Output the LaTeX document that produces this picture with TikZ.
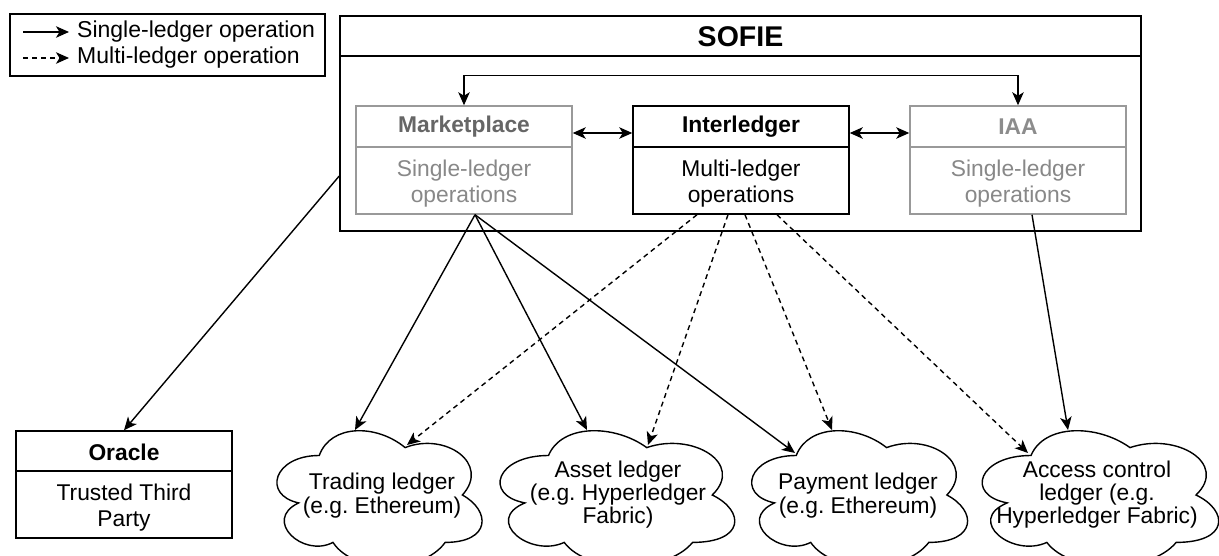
\documentclass[tikz,border=0pt]{standalone}
\usepackage{fontspec}
\setmainfont{Liberation Sans}
\usetikzlibrary{arrows.meta,calc}
\frenchspacing
\definecolor{grayline}{RGB}{153,153,153}
\definecolor{graytitle}{RGB}{102,102,102}
\definecolor{graytitlelt}{RGB}{140,140,140}
\definecolor{graytext}{RGB}{136,136,136}
\newcommand\drawcloud[4]{%
  \begin{scope}[shift={(#1,#2)}, xscale=#3, yscale=#4]
    \draw[cloudline] (0.25,0.25) .. controls (0.05,0.25) and (0,0.5) .. (0.16,0.55)
      .. controls (0,0.66) and (0.18,0.9) .. (0.31,0.8)
      .. controls (0.4,1) and (0.7,1) .. (0.8,0.8)
      .. controls (1,0.8) and (1,0.6) .. (0.875,0.5)
      .. controls (1,0.3) and (0.8,0.1) .. (0.625,0.2)
      .. controls (0.5,0.05) and (0.3,0.05) .. (0.25,0.25) -- cycle;
  \end{scope}}
\begin{document}
\frenchspacing
\begin{tikzpicture}[x=1pt,y=-1pt,
  every node/.style={font=\fontsize{22.8}{26}\selectfont, inner sep=0pt, align=center},
  boxblack/.style={draw=black, line width=1.5pt, minimum width=216pt, minimum height=108pt},
  boxgray/.style={draw=grayline, line width=1.5pt, minimum width=216pt, minimum height=108pt},
  cloudline/.style={draw=black, line width=1.4pt},
  conn/.style={line width=1.4pt, -{Stealth[length=13pt,width=11.5pt,inset=3.5pt]}},
  conndash/.style={conn, dash pattern=on 5pt off 4pt},
  both/.style={line width=1.4pt, {Stealth[length=13pt,width=11.5pt,inset=3.5pt]}-{Stealth[length=13pt,width=11.5pt,inset=3.5pt]}},
  titlefont/.style={font=\fontsize{22.8}{26}\selectfont\bfseries},
  bodyfont/.style={font=\fontsize{22.8}{26}\selectfont}
]
\useasboundingbox (0,0) rectangle (1219,556);
\fill[white] (0,0) rectangle (1219,556);

% legend
\node[draw=black, line width=1.4pt, minimum width=315pt, minimum height=62pt] (legend) at (167.5,45) {};
\coordinate (l1a) at (23,32); \coordinate (l1b) at (69,32);
\coordinate (l2a) at (23,58); \coordinate (l2b) at (69,58);
\draw[conn] (l1a) -- (l1b);
\draw[conndash] (l2a) -- (l2b);
\node[anchor=west, font=\fontsize{23}{26}\selectfont] (leg1) at (77,32) {Single-ledger operation};
\node[anchor=west, font=\fontsize{23}{26}\selectfont] (leg2) at (77,58) {Multi-ledger operation};

% SOFIE container
\node[draw=black, line width=1.5pt, minimum width=801pt, minimum height=215pt] (sofie) at (740.5,123.5) {};
\draw[line width=1.5pt] (sofie.north west |- 0,56) coordinate (sdl) -- (sofie.north east |- 0,56) coordinate (sdr);
\node[font=\fontsize{28.5}{32}\selectfont\bfseries] (sofieT) at (740.5,37) {SOFIE};

% Marketplace
\node[boxgray] (mkt) at (464,160) {};
\draw[grayline, line width=1.5pt] (mkt.west |- 0,147) coordinate (mdl) -- (mkt.east |- 0,147) coordinate (mdr);
\node[titlefont, text=graytitle] (mktT) at (464,127) {Marketplace};
\node[bodyfont, text=graytext] (mktB) at (464,184) {Single-ledger\\operations};

% Interledger
\node[boxblack] (int) at (741,160) {};
\draw[line width=1.5pt] (int.west |- 0,147) coordinate (idl) -- (int.east |- 0,147) coordinate (idr);
\node[titlefont] (intT) at (741,127) {Interledger};
\node[bodyfont] (intB) at (741,184) {Multi-ledger\\operations};

% IAA
\node[boxgray] (iaa) at (1018,160) {};
\draw[grayline, line width=1.5pt] (iaa.west |- 0,147) coordinate (adl) -- (iaa.east |- 0,147) coordinate (adr);
\node[titlefont, text=graytitlelt] (iaaT) at (1018,127) {IAA};
\node[bodyfont, text=graytext] (iaaB) at (1018,184) {Single-ledger\\operations};

% Oracle
\node[boxblack, minimum height=107pt] (ora) at (124,484.5) {};
\draw[line width=1.5pt] (ora.west |- 0,471) coordinate (odl) -- (ora.east |- 0,471) coordinate (odr);
\node[titlefont] (oraT) at (124,452) {Oracle};
\node[bodyfont] (oraB) at (124,508) {Trusted Third\\Party};

% clouds
\drawcloud{262}{416}{229}{158}
\node[bodyfont, font=\fontsize{22.8}{24}\selectfont] (trade) at (382,496) {Trading ledger\\(e.g. Ethereum)};
\drawcloud{483}{416}{262}{158}
\node[bodyfont, font=\fontsize{22.8}{23}\selectfont] (asset) at (618,495) {Asset ledger\\(e.g. Hyperledger\\Fabric)};
\drawcloud{736}{416}{241}{158}
\node[bodyfont, font=\fontsize{22.8}{24}\selectfont] (pay) at (858,496) {Payment ledger\\(e.g. Ethereum)};
\drawcloud{965}{416}{264}{158}
\node[bodyfont, font=\fontsize{22.8}{23}\selectfont] (acc) at (1097,495) {Access control\\ledger (e.g.\\Hyperledger Fabric)};

% cloud attachment points
\coordinate (tradeS) at (355,430);
\coordinate (tradeD) at (407,445);
\coordinate (assetS) at (587,430);
\coordinate (assetD) at (648,445);
\coordinate (payS) at (795,453);
\coordinate (payD) at (832,430);
\coordinate (accD) at (1028,453);
\coordinate (accS) at (1068,430);

% internal connectors
\coordinate (arrY) at (0,133);
\draw[both] (mkt.east |- arrY) -- (int.west |- arrY);
\draw[both] (int.east |- arrY) -- (iaa.west |- arrY);
\draw[both] (mkt.north) -- ++(0,-30) -| (iaa.north);

% solid connectors
\draw[conn] ([xshift=11pt]mkt.south) -- (tradeS);
\draw[conn] ([xshift=11pt]mkt.south) -- (assetS);
\draw[conn] ([xshift=11pt]mkt.south) -- (payS);
\draw[conn] ([xshift=14pt]iaa.south) -- (accS);
\draw[conn] ([yshift=-52.5pt]sofie.west) -- (ora.north);

% dashed connectors
\draw[conndash] ([xshift=-44pt]int.south) -- (tradeD);
\draw[conndash] ([xshift=-13pt]int.south) -- (assetD);
\draw[conndash] ([xshift=4pt]int.south) -- (payD);
\draw[conndash] ([xshift=36pt]int.south) -- (accD);
\end{tikzpicture}
\end{document}
